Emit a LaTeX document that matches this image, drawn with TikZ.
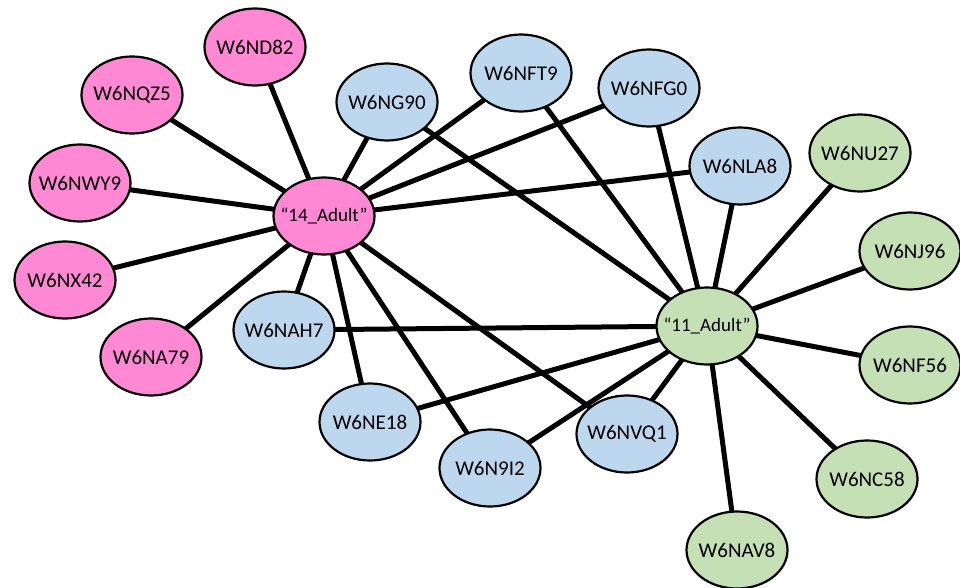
\documentclass[tikz,border=0pt]{standalone}
\usepackage{fontspec}
\setmainfont{Carlito}
\usetikzlibrary{shapes.geometric,backgrounds}

\definecolor{pinknode}{RGB}{255,136,212}
\definecolor{bluenode}{RGB}{189,215,238}
\definecolor{greennode}{RGB}{197,224,180}

% Text that does not widen the ellipse.
\newcommand{\samplename}[1]{\makebox[0pt]{#1}}

\begin{document}
\begin{tikzpicture}[x=1pt, y=-1pt,
        sample/.style={ellipse, draw=black, line width=2.2pt, minimum width=101pt, minimum height=77pt, inner sep=0pt, font=\fontsize{21}{25}\selectfont},
        group/.style={sample, font=\fontsize{19}{23}\selectfont},
        link/.style={line width=5pt}]
        \useasboundingbox (0,0) rectangle (960,588);
        
        % Groups.
        \node[group, fill=pinknode] (a14) at (324,216) {\samplename{“14\_Adult”}};
        \node[group, fill=greennode] (a11) at (707,326) {\samplename{“11\_Adult”}};
        
        % Only 14_Adult.
        \node[sample, fill=pinknode] (nd82) at (255,47) {\samplename{W6ND82}};
        \node[sample, fill=pinknode] (nqz5) at (132,95) {\samplename{W6NQZ5}};
        \node[sample, fill=pinknode] (nwy9) at (80,183) {\samplename{W6NWY9}};
        \node[sample, fill=pinknode] (nx42) at (65,280) {\samplename{W6NX42}};
        \node[sample, fill=pinknode] (na79) at (151,357) {\samplename{W6NA79}};
        
        % Shared.
        \node[sample, fill=bluenode] (ng90) at (387,102) {\samplename{W6NG90}};
        \node[sample, fill=bluenode] (nft9) at (521,73) {\samplename{W6NFT9}};
        \node[sample, fill=bluenode] (nfg0) at (649,88) {\samplename{W6NFG0}};
        \node[sample, fill=bluenode] (nla8) at (740,166) {\samplename{W6NLA8}};
        \node[sample, fill=bluenode] (nah7) at (284,330) {\samplename{W6NAH7}};
        \node[sample, fill=bluenode] (ne18) at (370,422) {\samplename{W6NE18}};
        \node[sample, fill=bluenode] (n9i2) at (490,468) {\samplename{W6N9I2}};
        \node[sample, fill=bluenode] (nvq1) at (627,434) {\samplename{W6NVQ1}};
        
        % Only 11_Adult.
        \node[sample, fill=greennode] (nu27) at (860,153) {\samplename{W6NU27}};
        \node[sample, fill=greennode] (nj96) at (910,251) {\samplename{W6NJ96}};
        \node[sample, fill=greennode] (nf56) at (910,365) {\samplename{W6NF56}};
        \node[sample, fill=greennode] (nc58) at (867,479) {\samplename{W6NC58}};
        \node[sample, fill=greennode] (nav8) at (737,550) {\samplename{W6NAV8}};
        
        \begin{scope}[on background layer]
            % Links of 14_Adult.
            \draw[link] (a14.center) -- (nd82.center);
            \draw[link] (a14.center) -- (nqz5.center);
            \draw[link] (a14.center) -- (nwy9.center);
            \draw[link] (a14.center) -- (nx42.center);
            \draw[link] (a14.center) -- (na79.center);
            \draw[link] (a14.center) -- (ng90.center);
            \draw[link] (a14.center) -- (nft9.center);
            \draw[link] (a14.center) -- (nfg0.center);
            \draw[link] (a14.center) -- (nla8.center);
            \draw[link] (a14.center) -- (nah7.center);
            \draw[link] (a14.center) -- (ne18.center);
            \draw[link] (a14.center) -- (n9i2.center);
            \draw[link] (a14.center) -- (nvq1.center);
            
            % Links of 11_Adult.
            \draw[link] (a11.center) -- (ng90.center);
            \draw[link] (a11.center) -- (nft9.center);
            \draw[link] (a11.center) -- (nfg0.center);
            \draw[link] (a11.center) -- (nla8.center);
            \draw[link] (a11.center) -- (nah7.center);
            \draw[link] (a11.center) -- (ne18.center);
            \draw[link] (a11.center) -- (n9i2.center);
            \draw[link] (a11.center) -- (nvq1.center);
            \draw[link] (a11.center) -- (nu27.center);
            \draw[link] (a11.center) -- (nj96.center);
            \draw[link] (a11.center) -- (nf56.center);
            \draw[link] (a11.center) -- (nc58.center);
            \draw[link] (a11.center) -- (nav8.center);
        \end{scope}
        
    \end{tikzpicture}
\end{document}
